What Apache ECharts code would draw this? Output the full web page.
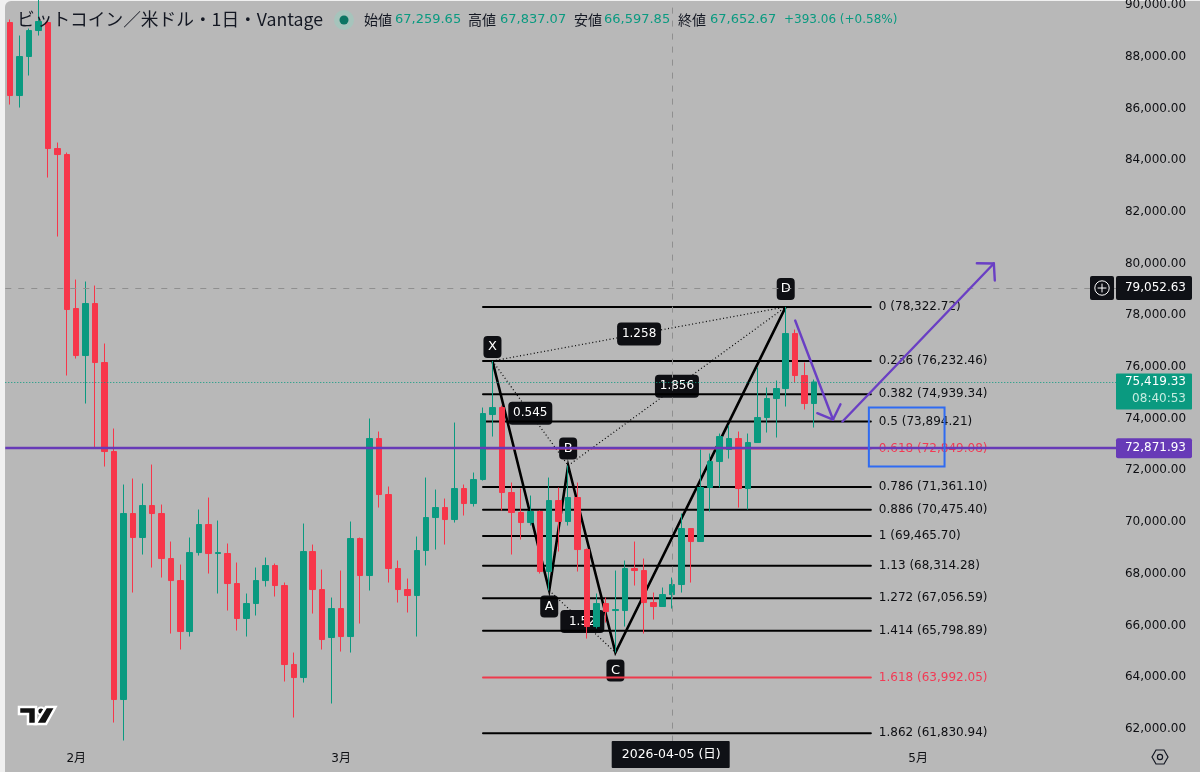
<!DOCTYPE html>
<html>
<head>
<meta charset="utf-8">
<style>
html,body{margin:0;padding:0;background:#f0f0f0;width:1200px;height:772px;overflow:hidden}
#bg{position:absolute;left:5px;top:1px;width:1195px;height:771px;background:#b8b8b8;border-top-left-radius:6px}
#chart{position:absolute;left:0;top:0;width:1200px;height:772px}
</style>
<script src="https://cdn.jsdelivr.net/npm/echarts@6/dist/echarts.min.js"></script>
</head>
<body>
<div id="bg"></div>
<div id="chart"></div>
<script>
// ---------- data ----------
const titleText = 'ビットコイン／米ドル・1日・Vantage';
const legendOHLC = [['始値','67,259.65'],['高値','67,837.07'],['安値','66,597.85'],['終値','67,652.67']];
const legendChange = '+393.06 (+0.58%)';

const opens = [89322,86498,88007,89012,89322,84448,84216,78259,76441,78453,76171,72728,63136,70330,69402,70639,70330,68589,67738,65766,68821,69905,68783,68783,67622,66269,66849,67738,68319,67545,64489,63986,68860,67390,65534,66655,65572,69363,67932,73231,71065,68203,67390,67158,68899,70175,70562,70098,71297,70717,71645,74159,74430,71142,70369,69982,70407,68087,70833,70021,70949,68937,65959,66849,66578,66578,68203,68125,66887,66733,67197,67584,69750,69247,71336,72341,72806,73231,71297,73076,74043,74778,75165,77292,75668,74585];
const closes = [86498,88007,89012,89361,84448,84216,78221,76441,78453,76171,72728,63136,70330,69402,70639,70330,68589,67738,65766,68821,69905,68783,68821,67622,66269,66849,67738,68319,67545,64489,63986,68860,67390,65456,66655,65572,69363,67932,73231,71065,68203,67390,67158,68899,70175,70562,70098,71297,70717,71645,74198,74430,71142,70369,69982,70407,68087,70833,70021,70949,68937,65959,66849,66539,66617,68203,68125,66887,66733,67197,67584,69750,69247,71336,72341,73308,73231,71297,73076,74043,74778,75165,77292,75668,74585,75419];
const highs = [89438,88819,89090,90366,89399,84680,84293,79381,79304,79149,76906,73618,71452,71684,71490,72225,70678,69247,68357,69402,70485,70949,70059,69170,68435,67236,68241,68628,68396,67661,64953,69943,69131,68164,67081,68125,70021,69402,74005,73502,71374,68512,67816,69440,71722,71258,70910,73850,71452,71916,74430,76232,74507,71529,71297,71026,70446,71722,71336,72187,71529,68976,67236,67081,68125,68512,69247,68589,67274,67468,67854,70330,69750,72806,72651,73424,73734,73502,73424,75977,75204,75474,78322,77447,76171,75513];
const lows = [86150,86034,87272,88819,83326,81044,75668,76325,74585,72883,72148,62246,61550,67274,68744,68241,67854,65688,65070,65572,68705,68009,67236,66578,65804,65572,66385,67506,67120,63832,62439,63793,66462,65070,62981,64992,64953,66075,67352,70562,67661,66887,66501,65572,68319,68937,69131,69982,70253,70601,71606,73308,70446,68744,69324,69866,68009,67352,68860,69866,68087,65495,65882,66114,64953,65959,67545,65688,66230,66733,66655,67274,67661,69247,70407,71336,72457,70562,70485,73076,73463,73270,74469,75397,74353,73656];

const axisMonthStarts = ['2026-02-01','2026-03-01','2026-05-01'];
const axisMonthLabels = ['2月','3月','5月'];
const crosshairDate = '2026-04-05';
const crosshairDateLabel = '2026-04-05 (日)';
const crosshairPrice = 79052.63;
const lastPrice = 75419.33;
const lastPriceLabel = '75,419.33';
const countdownLabel = '08:40:53';
const supportLevel = 72871.93;
const crosshairPriceLabel = '79,052.63';
const supportLabel = '72,871.93';

const fibRatios = ['0','0.236','0.382','0.5','0.618','0.786','0.886','1','1.13','1.272','1.414','1.618','1.862'];
const fibPrices = [78322.72,76232.46,74939.34,73894.21,72849.08,71361.10,70475.40,69465.70,68314.28,67056.59,65798.89,63992.05,61830.94];
const fibRedRatios = ['0.618','1.618'];
const fibFrom = 50, fibTo = 91;

const patternNames = ['X','A','B','C','D'];
const patternIdx = [51,57,59,64,82];
const patternPrices = [76232,67352,72187,64953,78322];
const ratioLegs = [['1.258','X','D'],['1.856','B','D'],['0.545','X','B'],['1.52','A','C']];

const arrowLegs = [[83,77795,87,73966],[88,73889,104,80000]];
const boxZone = [91,74430,99,72148];

// ---------- build ----------
const TOTAL = 118;
const categories = [];
for (let i = 0; i < TOTAL; i++) {
  categories.push(new Date(Date.UTC(2026,0,25+i)).toISOString().slice(0,10));
}
const candleData = opens.map((o,i)=>[o,closes[i],lows[i],highs[i]]);

const GREEN='#0a9a80', RED='#f7364a', BLACK='#131722', INK='#0e0f13', PURPLE='#673ab7', BLUE='#2f6bf2', FIBRED='#f23a55';
const NUM='"DejaVu Sans",sans-serif', CJK='"DejaVu Sans","Noto Sans CJK JP",sans-serif';
const TAG_OFFSET={X:-14,A:16,B:-17,C:18,D:-18};
const pick = n => patternNames.indexOf(n);

function lineEl(a,b,stroke,w,dash){
  return {type:'line',shape:{x1:a[0],y1:a[1],x2:b[0],y2:b[1]},style:{stroke,lineWidth:w,lineDash:dash||null,lineCap:'round'}};
}
function legSeries(a,b){
  const i=pick(a), j=pick(b);
  return {type:'line',z:1,silent:true,symbol:'none',animation:false,
    data:[[categories[patternIdx[i]],patternPrices[i]],[categories[patternIdx[j]],patternPrices[j]]],
    lineStyle:{color:'#000',width:1.2,type:[1,2.5]}};
}

const option = {
  animation:false,
  backgroundColor:'transparent',
  title:{text:titleText,left:17,top:10,padding:0,textStyle:{fontFamily:'"Noto Sans CJK JP",sans-serif',fontSize:17.7,fontWeight:'normal',color:BLACK}},
  grid:{left:5.27,width:1116.28,top:5,height:775.6,containLabel:false,outerBoundsMode:'none'},
  xAxis:{type:'category',data:categories,boundaryGap:true,
    axisLine:{show:false},axisTick:{show:false},splitLine:{show:false},
    axisLabel:{inside:true,margin:16,color:INK,fontSize:12,fontFamily:CJK,hideOverlap:false,
      interval:(i,v)=>axisMonthStarts.includes(v),
      formatter:v=>axisMonthLabels[axisMonthStarts.indexOf(v)]||''}},
  yAxis:{type:'value',position:'right',min:60000,max:90000,interval:2000,
    axisLine:{show:false},axisTick:{show:false},splitLine:{show:false},
    axisLabel:{showMinLabel:false,align:'right',margin:64.5,color:INK,fontSize:12,fontFamily:NUM,
      formatter:v=>v.toLocaleString('en-US',{minimumFractionDigits:2,maximumFractionDigits:2})}},
  graphic:[
    {type:'circle',shape:{cx:344,cy:20,r:10},style:{fill:'#a6c4bc'},z:20},
    {type:'circle',shape:{cx:344,cy:20,r:4.5},style:{fill:'#0b7563'},z:21},
    ...[[364,395],[468,500],[574,604],[678,710]].flatMap((p,i)=>[
      {type:'text',x:p[0],y:20,z:20,style:{text:legendOHLC[i][0],fill:BLACK,font:'14px "Noto Sans CJK JP"',verticalAlign:'middle'}},
      {type:'text',x:p[1],y:20,z:20,style:{text:legendOHLC[i][1],fill:GREEN,font:'13px "DejaVu Sans"',verticalAlign:'middle'}}
    ]),
    {type:'text',x:784,y:20,z:20,style:{text:legendChange,fill:GREEN,font:'12px "DejaVu Sans"',verticalAlign:'middle'}},
    // TradingView mark
    {type:'polygon',z:20,shape:{points:[[19,707],[36,707],[36,724],[28,724],[28,714],[19,714]]},style:{fill:'#111',stroke:'#fff',lineWidth:2.5}},
    {type:'circle',z:20,shape:{cx:41,cy:711,r:3.6},style:{fill:'#111',stroke:'#fff',lineWidth:2}},
    {type:'polygon',z:20,shape:{points:[[46,707],[55.5,707],[46,724],[35.5,724]]},style:{fill:'#111',stroke:'#fff',lineWidth:2.5}},
    // settings hexagon
    {type:'polygon',z:20,shape:{points:[[1152,757],[1156,750],[1164,750],[1168,757],[1164,764],[1156,764]]},style:{fill:'none',stroke:BLACK,lineWidth:1.2}},
    {type:'circle',z:20,shape:{cx:1160,cy:757,r:2.6},style:{fill:'none',stroke:BLACK,lineWidth:1.2}}
  ],
  series:[
    {type:'line',name:'pattern',z:1,silent:true,symbol:'none',animation:false,
      data:patternIdx.map((x,i)=>[categories[x],patternPrices[i]]),
      lineStyle:{color:'#000',width:2.6,join:'miter'}},
    ...ratioLegs.map(l=>legSeries(l[1],l[2])),
    {type:'custom',name:'pattern tags',z:2,silent:true,animation:false,
      encode:{x:0,y:1},data:patternIdx.map((x,i)=>[x,patternPrices[i]]),
      renderItem:(params,api)=>{
        const i=params.dataIndex, name=patternNames[i];
        const c=api.coord([patternIdx[i],patternPrices[i]]);
        const cy=c[1]+TAG_OFFSET[name];
        return {type:'group',children:[
          {type:'rect',shape:{x:c[0]-9,y:cy-11,width:18,height:22,r:4},style:{fill:INK}},
          {type:'text',x:c[0],y:cy,style:{text:name,fill:'#fff',font:'13px "DejaVu Sans"',align:'center',verticalAlign:'middle'}}
        ]};
      }},
    {type:'custom',name:'ratio tags',z:2,silent:true,animation:false,
      encode:{x:0,y:1},data:ratioLegs.map(l=>[patternIdx[pick(l[1])],patternPrices[pick(l[1])]]),
      renderItem:(params,api)=>{
        const l=ratioLegs[params.dataIndex], i=pick(l[1]), j=pick(l[2]);
        const a=api.coord([patternIdx[i],patternPrices[i]]), b=api.coord([patternIdx[j],patternPrices[j]]);
        const cx=(a[0]+b[0])/2, cy=(a[1]+b[1])/2;
        return {type:'group',children:[
          {type:'rect',shape:{x:cx-22,y:cy-11.5,width:44,height:23,r:4},style:{fill:INK}},
          {type:'text',x:cx,y:cy,style:{text:l[0],fill:'#fff',font:'12px "DejaVu Sans"',align:'center',verticalAlign:'middle'}}
        ]};
      }},
    {type:'custom',name:'fib levels',z:3,silent:true,animation:false,
      encode:{x:0,y:1},data:fibPrices.map(p=>[fibFrom,p]),
      renderItem:(params,api)=>{
        const i=params.dataIndex, p=fibPrices[i], r=fibRatios[i];
        const a=api.coord([fibFrom,p]), b=api.coord([fibTo,p]);
        const red=fibRedRatios.includes(r);
        return {type:'group',children:[
          lineEl(a,b,r==='1.618'?'#ee3a4c':(red?FIBRED:'#000'),2),
          {type:'text',x:b[0]+8,y:b[1],style:{text:r+' ('+p.toLocaleString('en-US',{minimumFractionDigits:2,maximumFractionDigits:2})+')',
            fill:red?FIBRED:INK,font:'12px "DejaVu Sans"',align:'left',verticalAlign:'middle'}}
        ]};
      }},
    {type:'candlestick',name:'BTCUSD',z:4,silent:true,clip:false,barWidth:6,animation:false,
      data:candleData,
      itemStyle:{color:GREEN,color0:RED,borderColor:GREEN,borderColor0:RED,borderWidth:1},
      markLine:{silent:true,symbol:['none','none'],animation:false,label:{show:false},precision:2,
        data:[
          {yAxis:crosshairPrice,lineStyle:{color:'#8f8f8f',width:1,type:[6,7]}},
          {yAxis:lastPrice,lineStyle:{color:GREEN,width:1,type:[1,2]}},
          {xAxis:crosshairDate,lineStyle:{color:'#8f8f8f',width:1,type:[6,7]}}
        ]}},
    {type:'line',name:'support',z:6,silent:true,symbol:'none',animation:false,
      data:[[categories[0],supportLevel]],
      markLine:{silent:true,symbol:['none','none'],animation:false,label:{show:false},
        data:[{yAxis:supportLevel,lineStyle:{color:PURPLE,width:2.4,type:'solid'}}]}},
    {type:'custom',name:'arrows',z:7,silent:true,animation:false,
      encode:{x:0,y:1},data:arrowLegs.map(a=>[a[0],a[1]]),
      renderItem:(params,api)=>{
        const l=arrowLegs[params.dataIndex];
        const a=api.coord([l[0],l[1]]), b=api.coord([l[2],l[3]]);
        const ang=Math.atan2(a[1]-b[1],a[0]-b[0]), s=47*Math.PI/180, len=17;
        const h1=[b[0]+len*Math.cos(ang+s),b[1]+len*Math.sin(ang+s)];
        const h2=[b[0]+len*Math.cos(ang-s),b[1]+len*Math.sin(ang-s)];
        const col='#6a3fc4';
        return {type:'group',children:[lineEl(a,b,col,2.4),lineEl(b,h1,col,2.4),lineEl(b,h2,col,2.4)]};
      }},
    {type:'custom',name:'zone',z:7,silent:true,animation:false,
      encode:{x:0,y:1},data:[[boxZone[0],boxZone[1]]],
      renderItem:(params,api)=>{
        const a=api.coord([boxZone[0],boxZone[1]]), b=api.coord([boxZone[2],boxZone[3]]);
        return {type:'rect',shape:{x:a[0]-2,y:a[1],width:b[0]-a[0],height:b[1]-a[1]},style:{fill:'none',stroke:BLUE,lineWidth:2}};
      }},
    {type:'custom',name:'price tags',z:9,silent:true,animation:false,
      encode:{x:0,y:1},data:[[0,crosshairPrice],[0,lastPrice],[0,supportLevel]],
      renderItem:(params,api)=>{
        const i=params.dataIndex;
        const white='#fff';
        if(i===0){
          const y=api.coord([0,crosshairPrice])[1];
          return {type:'group',children:[
            {type:'rect',shape:{x:1090,y:y-12,width:24,height:24,r:2},style:{fill:'#0f1116'}},
            {type:'circle',shape:{cx:1102,cy:y,r:7.2},style:{fill:'none',stroke:white,lineWidth:1}},
            lineEl([1098,y],[1106,y],white,1),lineEl([1102,y-4],[1102,y+4],white,1),
            {type:'rect',shape:{x:1116,y:y-12,width:76,height:24,r:2},style:{fill:'#0f1116'}},
            {type:'text',x:1186,y:y,style:{text:crosshairPriceLabel,fill:white,font:'12px "DejaVu Sans"',align:'right',verticalAlign:'middle'}}
          ]};
        }
        if(i===1){
          const y=api.coord([0,lastPrice])[1];
          return {type:'group',children:[
            {type:'rect',shape:{x:1116,y:y-8.5,width:76,height:36,r:1},style:{fill:GREEN}},
            {type:'text',x:1186,y:y,style:{text:lastPriceLabel,fill:white,font:'12px "DejaVu Sans"',align:'right',verticalAlign:'middle'}},
            {type:'text',x:1186,y:y+17,style:{text:countdownLabel,fill:'#c4ece0',font:'12px "DejaVu Sans"',align:'right',verticalAlign:'middle'}}
          ]};
        }
        const y=api.coord([0,supportLevel])[1];
        return {type:'group',children:[
          {type:'rect',shape:{x:1116,y:y-9.5,width:76,height:20,r:2},style:{fill:PURPLE}},
          {type:'text',x:1186,y:y,style:{text:supportLabel,fill:white,font:'12px "DejaVu Sans"',align:'right',verticalAlign:'middle'}}
        ]};
      }},
    {type:'custom',name:'crosshair date',z:9,silent:true,animation:false,
      encode:{x:0,y:1},data:[[categories.indexOf(crosshairDate),60000]],
      renderItem:(params,api)=>{
        const x=api.coord([categories.indexOf(crosshairDate),60000])[0];
        return {type:'group',children:[
          {type:'rect',shape:{x:x-60.5,y:741,width:118,height:27,r:1},style:{fill:'#0f1116'}},
          {type:'text',x:x-1,y:755,style:{text:crosshairDateLabel,fill:'#fff',font:'12.5px "DejaVu Sans","Noto Sans CJK JP"',align:'center',verticalAlign:'middle'}}
        ]};
      }}
  ]
};
const chart = echarts.init(document.getElementById('chart'),null,{renderer:'canvas'});
chart.setOption(option);
</script>
</body>
</html>
